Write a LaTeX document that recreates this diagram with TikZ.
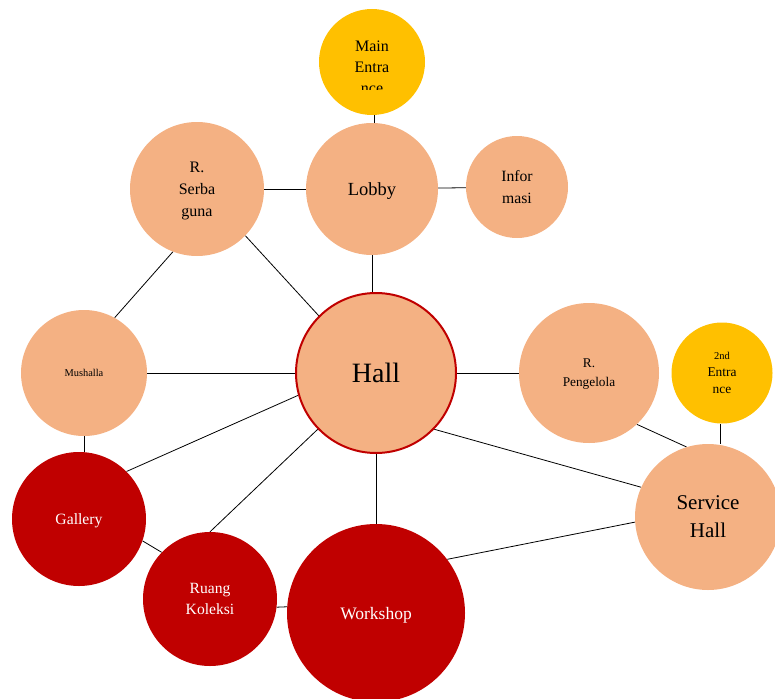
\documentclass[tikz,border=0pt]{standalone}
\usepackage{fontspec}
\setmainfont{Liberation Serif}
\pgfdeclarelayer{bg}
\pgfsetlayers{bg,main}
\definecolor{peach}{HTML}{F4B183}
\definecolor{gold}{HTML}{FFC000}
\definecolor{deepred}{HTML}{C00000}
\tikzset{
  disc/.style={circle, inner sep=0pt, align=center, text depth=0pt},
  room/.style={disc, fill=peach, draw=none, text=black},
  entry/.style={disc, fill=gold, draw=none, text=black},
  work/.style={disc, fill=deepred, draw=none, text=white},
  hub/.style={disc, fill=peach, draw=deepred, line width=2pt},
  link/.style={draw=black, line width=0.8pt},
  fs/.style 2 args={font=\fontsize{#1}{#2}\selectfont}
}
\begin{document}
\begin{tikzpicture}[x=1pt,y=-1pt]
\useasboundingbox (0,0) rectangle (775,698);
\clip (0,0) rectangle (775,698);

% rooms
\node[entry, minimum size=106pt] (me) at (372,62) {};
\begin{scope}
  \clip (319,0) rectangle (426,90);
  \node[fs={16}{21}, align=center] (metext) at (372,67) {Main\\Entra\\nce};
\end{scope}
\node[room, minimum size=132pt, fs={18.5}{22}] (lobby) at (372,189) {Lobby};
\node[room, minimum size=102pt, fs={15.7}{22}] (info) at (517,187) {Infor\\masi};
\node[room, minimum size=134pt, fs={16}{22}] (serba) at (197,189) {R.\\Serba\\guna};
\node[room, minimum size=126pt, fs={10.4}{13}] (mus) at (84,373) {Mushalla};
\node[hub, minimum size=160pt, fs={28}{32}] (hall) at (376,373) {Hall};
\node[room, minimum size=140pt, fs={13.3}{19}] (peng) at (589,373) {R.\\Pengelola};
\node[entry, minimum size=101pt, fs={13.4}{17}] (e2) at (722,373) {{\fontsize{10.5}{17}\selectfont 2nd}\\Entra\\nce};
\node[room, minimum size=146pt, fs={21}{28}] (svc) at (708,517) {Service\\Hall};
\node[work, minimum size=134pt, fs={15.7}{21}] (gal) at (79,519) {Gallery};
\node[work, minimum size=134pt, fs={15.6}{21}] (kol) at (210,599) {Ruang\\Koleksi};
\node[work, minimum size=178pt, fs={17.5}{22}] (ws) at (376,613) {Workshop};

% connections
\begin{pgfonlayer}{bg}
\draw[link] ([xshift=2pt]me.south) -- ([xshift=2pt]me.south |- lobby.north);
\draw[link] (serba) -- (lobby);
\draw[link] (lobby) -- (info);
\draw[link] (lobby.south) -- (lobby.south |- hall.north);
\draw[link] (serba.-44) -- (hall.135);
\draw[link] (mus.61) -- (serba.249);
\draw[link] (mus) -- (hall);
\draw[link] (mus.south) -- (mus.south |- gal.north);
\draw[link] (hall.196) -- (gal.45);
\draw[link] (hall.224) -- (kol.90);
\draw[link] (hall) -- (ws);
\draw[link] (hall) -- (peng);
\draw[link] (hall.-44) -- (svc.156);
\draw[link] (peng.-47) -- (svc.107);
\draw[link] ([xshift=-2pt]e2.south) -- ([xshift=-2pt]e2.south |- svc.north);
\draw[link] (ws.37) -- (svc.184);
\draw[link] (gal.-19) -- (kol.136);
\draw[link] (kol.-7) -- (ws.176);
\end{pgfonlayer}
\end{tikzpicture}
\end{document}
